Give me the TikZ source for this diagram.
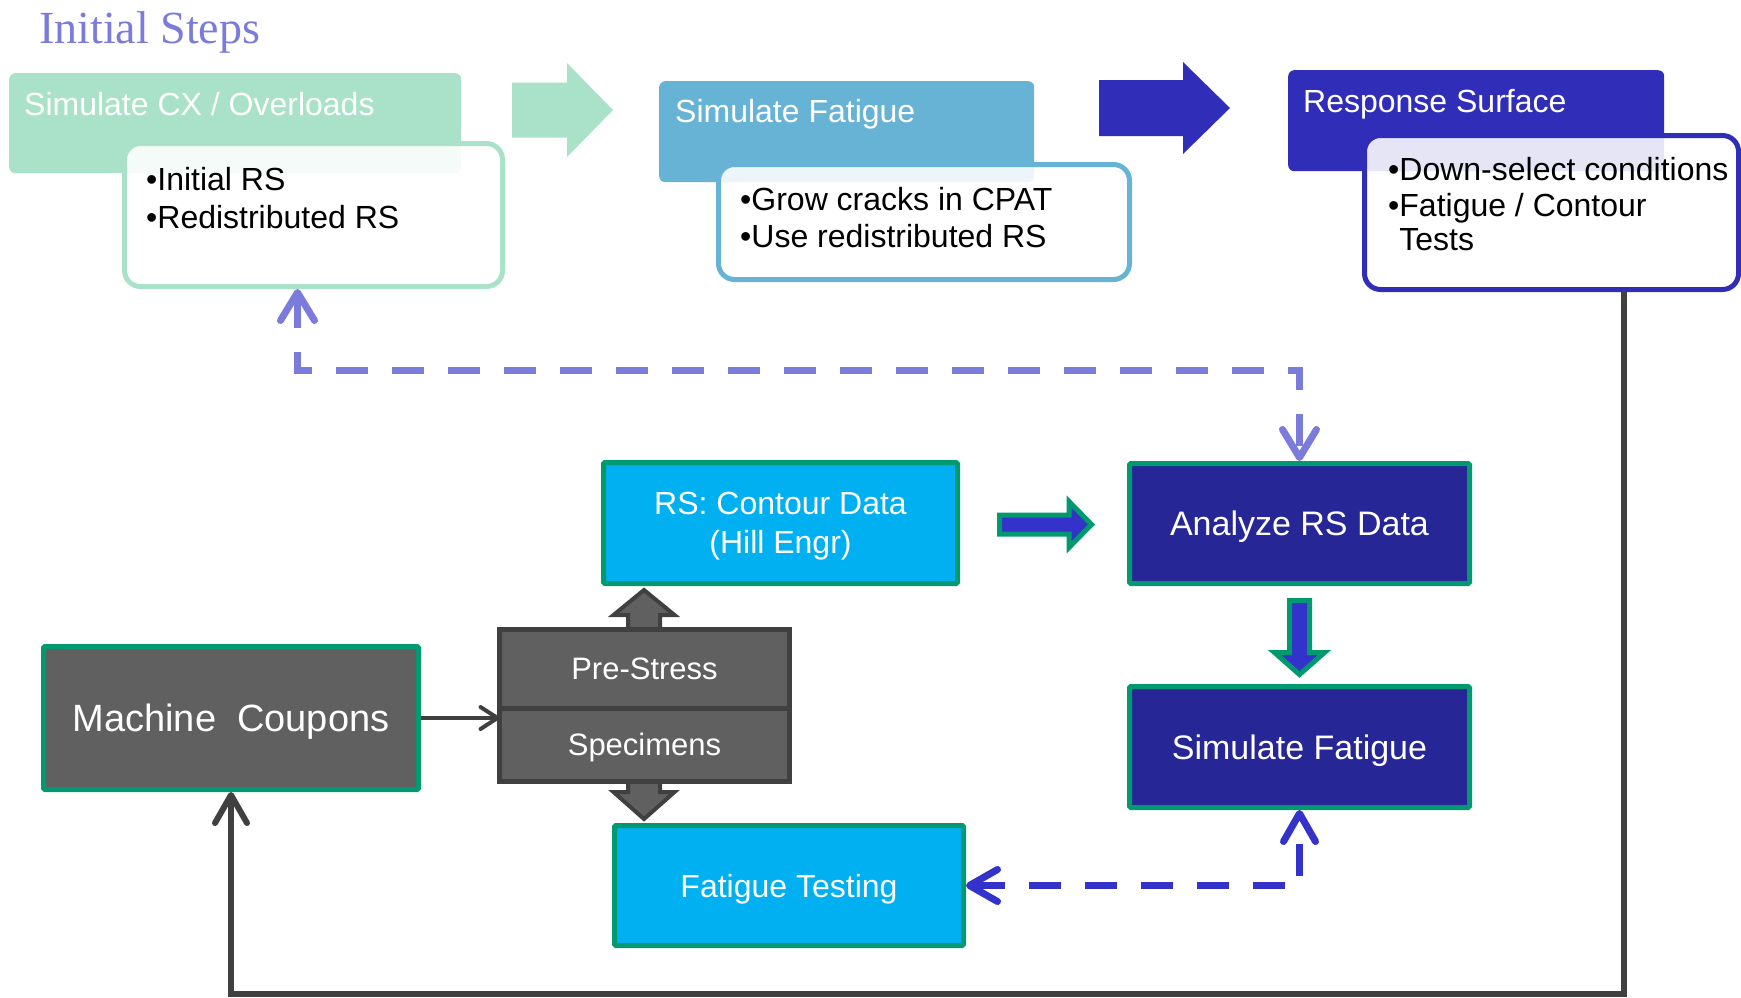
\documentclass[tikz,border=0pt]{standalone}
\usepackage{fontspec}
\setmainfont{Liberation Sans}
\newfontfamily\titlefont{Liberation Serif}
\usetikzlibrary{arrows.meta, calc, positioning}
\definecolor{lavblue}{RGB}{123,123,219}
\definecolor{cxgreen}{RGB}{169,226,200}
\definecolor{fatblue}{RGB}{103,179,213}
\definecolor{rsblue}{RGB}{48,46,184}
\definecolor{cyanbox}{RGB}{0,176,240}
\definecolor{tealedge}{RGB}{0,153,112}
\definecolor{navybox}{RGB}{38,38,150}
\definecolor{flowblue}{RGB}{51,51,204}
\definecolor{grayfill}{RGB}{96,96,96}
\definecolor{edgegray}{RGB}{64,64,64}
\tikzset{
    hdrbox/.style={rectangle, rounded corners=6pt, inner sep=0pt, anchor=north west},
    hdrtxt/.style={anchor=base west, inner sep=0pt, text=white, font=\fontsize{32}{37}\selectfont},
    notebox/.style={rectangle, rounded corners=16pt, draw, line width=5pt, fill=white, fill opacity=0.88, inner sep=0pt, anchor=north west},
    notetxt/.style={anchor=base west, inner sep=0pt, text=black, font=\fontsize{32}{37}\selectfont},
    stepbox/.style={rectangle, draw=tealedge, line width=5pt, rounded corners=1.5pt, text=white, align=center, inner sep=0pt, text depth=0pt, font=\fontsize{32}{39}\selectfont},
    graybox/.style={rectangle, draw=edgegray, fill=grayfill, line width=5pt, text=white, inner sep=0pt, outer sep=0pt, text depth=0pt, font=\fontsize{31}{37}\selectfont},
    stageFlow/.style={draw=none},
    dataFlow/.style={fill=flowblue, draw=tealedge, line width=5pt},
    prepFlow/.style={fill=grayfill, draw=edgegray, line width=4pt},
    lavLink/.style={draw=lavblue, line width=7pt, dash pattern=on 32pt off 24pt, {Straight Barb[length=28pt, width=34pt, round]}-{Straight Barb[length=28pt, width=34pt, round]}},
    blueLink/.style={draw=flowblue, line width=7pt, dash pattern=on 32pt off 24pt, {Straight Barb[length=28pt, width=32pt, round]}-{Straight Barb[length=28pt, width=32pt, round]}},
    backLink/.style={draw=edgegray, line width=6pt, -{Straight Barb[length=28pt, width=32pt, round]}},
    feedLink/.style={draw=edgegray, line width=4pt, -{Straight Barb[length=17pt, width=22pt, round]}},
}
% block arrow to the right: [style]{x tail}{x tip}{y centre}{shaft half}{head half}{head length}
\newcommand{\drawBlockRight}[7][]{
    \draw[#1] (#2,#4-#5) -- (#3-#7,#4-#5) -- (#3-#7,#4-#6) -- (#3,#4) -- (#3-#7,#4+#6) -- (#3-#7,#4+#5) -- (#2,#4+#5) -- cycle;
}
% block arrow downwards: [style]{y tail}{y tip}{x centre}{shaft half}{head half}{head length}
\newcommand{\drawBlockDown}[7][]{
    \draw[#1] (#4-#5,#2) -- (#4-#5,#3-#7) -- (#4-#6,#3-#7) -- (#4,#3) -- (#4+#6,#3-#7) -- (#4+#5,#3-#7) -- (#4+#5,#2) -- cycle;
}

\begin{document}
\begin{tikzpicture}[x=1pt, y=-1pt]
    \useasboundingbox (0,0) rectangle (1741,997);

    \node[anchor=base west, inner sep=0pt, text=lavblue, font=\titlefont\fontsize{46}{50}\selectfont] (title) at (39,43) {Initial Steps};

    % top row
    \node[hdrbox, fill=cxgreen, minimum width=452pt, minimum height=100pt] (cxhead) at (9,73) {};
    \node[notebox, draw=cxgreen, minimum width=378pt, minimum height=143pt] (cxnote) at (122,141) {};
    \node[hdrtxt] (cxheadtxt) at (24,115) {Simulate CX / Overloads};
    \node[notetxt] (cxline1) at (146,190) {•Initial RS};
    \node[notetxt] (cxline2) at (146,228) {•Redistributed RS};

    \node[hdrbox, fill=fatblue, minimum width=375pt, minimum height=101pt] (fathead) at (659,81) {};
    \node[notebox, draw=fatblue, minimum width=411pt, minimum height=115pt] (fatnote) at (716,162) {};
    \node[hdrtxt] (fatheadtxt) at (675,122) {Simulate Fatigue};
    \node[notetxt] (fatline1) at (740,210) {•Grow cracks in CPAT};
    \node[notetxt] (fatline2) at (740,247) {•Use redistributed RS};

    \node[hdrbox, fill=rsblue, minimum width=376pt, minimum height=101pt] (rshead) at (1288,70) {};
    \node[notebox, draw=rsblue, minimum width=374pt, minimum height=154pt] (rsnote) at (1362,133) {};
    \node[hdrtxt] (rsheadtxt) at (1303,112) {Response Surface};
    \node[notetxt] (rsline1) at (1388,180) {•Down-select conditions};
    \node[notetxt] (rsline2) at (1388,216) {•Fatigue / Contour};
    \node[notetxt] (rsline3) at (1388,250) {\phantom{•}Tests};

    \drawBlockRight[stageFlow, fill=cxgreen]{512}{613}{110}{27.5}{47}{46}
    \drawBlockRight[stageFlow, fill=rsblue]{1099}{1230}{108}{28}{46}{47}

    % lower flow
    \node[stepbox, fill=cyanbox, minimum width=354pt, minimum height=121pt] (contour) at (780.5,523) {RS: Contour Data\\(Hill Engr)};
    \node[stepbox, fill=navybox, minimum width=340pt, minimum height=120pt, font=\fontsize{34}{39}\selectfont] (analyze) at (1299.5,523.5) {Analyze RS Data};
    \node[stepbox, fill=navybox, minimum width=340pt, minimum height=121pt, font=\fontsize{34}{39}\selectfont] (simfat) at (1299.5,747) {Simulate Fatigue};
    \node[stepbox, fill=cyanbox, minimum width=349pt, minimum height=120pt] (fattest) at (789,885.5) {Fatigue Testing};
    \node[stepbox, fill=grayfill, minimum width=375pt, minimum height=143pt, font=\fontsize{38}{44}\selectfont] (machine) at (231,718) {Machine~~Coupons};

    \draw[prepFlow] (644,590) -- (674.5,615) -- (660,615) -- (660,792) -- (674.5,792) -- (644,819) -- (613.5,792) -- (628,792) -- (628,615) -- (613.5,615) -- cycle;
    \node[graybox, minimum width=290pt, minimum height=78.5pt] (prestress) at (644.5,668.75) {Pre-Stress};
    \node[graybox, minimum width=290pt, minimum height=73.5pt, anchor=north] (specimens) at (prestress.south) {Specimens};

    \drawBlockRight[dataFlow]{999.5}{1091.5}{524.5}{9.5}{23}{22.5}
    \drawBlockDown[dataFlow]{600.5}{674.5}{1299.5}{10}{25}{22}

    \draw[feedLink] (machine.east) -- (machine.east -| specimens.west);
    \draw[lavLink] ([xshift=-16pt]cxnote.south) -- ++(0,81) -| (analyze.north);
    \draw[blueLink] (fattest.east) -| (simfat.south);
    \draw[backLink] ([xshift=72pt]rsnote.south) -- ++(0,702) -| (machine.south);

\end{tikzpicture}
\end{document}
